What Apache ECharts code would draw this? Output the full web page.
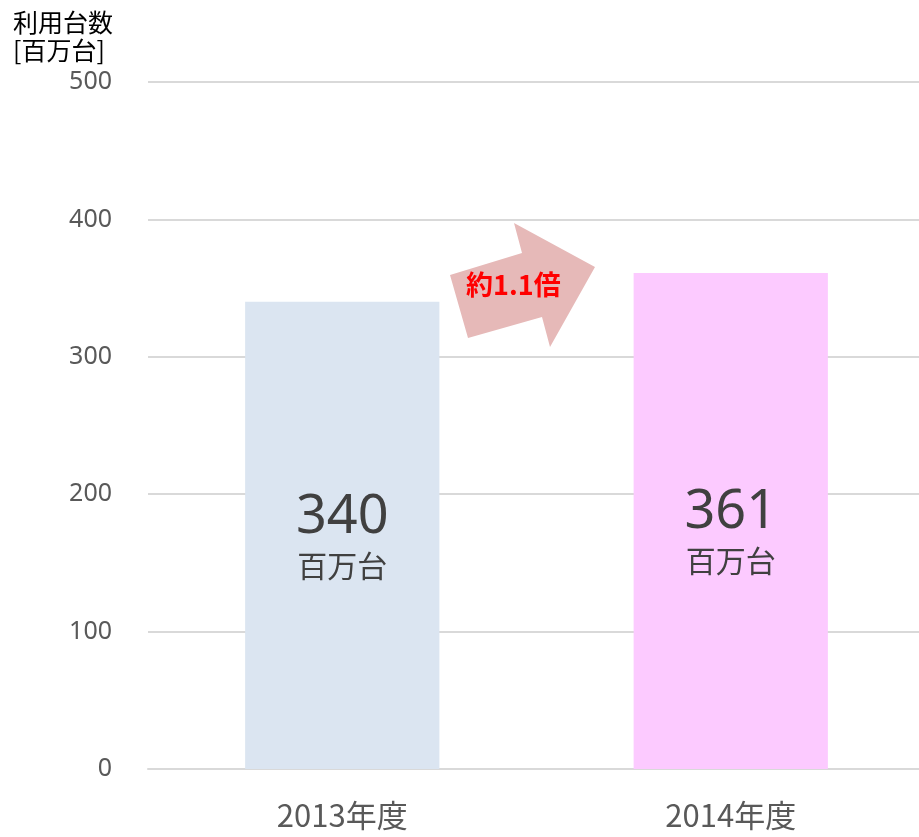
<!DOCTYPE html>
<html>
<head>
<meta charset="utf-8">
<script src="https://cdn.jsdelivr.net/npm/echarts@6/dist/echarts.min.js"></script>
<style>
  html, body { margin: 0; padding: 0; background: #fff; }
  #main { width: 919px; height: 837px; }
</style>
</head>
<body>
<div id="main"></div>
<script>
const categories = ["2013年度", "2014年度"];
const values = [340, 361];
const barColors = ["#dbe5f1", "#fccaff"];
const labelShift = [2, 12];
const unitLabel = "百万台";
const growthText = "約1.1倍";

const font = '"Noto Sans CJK JP", "Noto Sans", sans-serif';
const numFont = '"Noto Sans", "Noto Sans CJK JP", sans-serif';

const chart = echarts.init(document.getElementById("main"));
chart.setOption({
  animation: false,
  textStyle: { fontFamily: font },
  title: {
    text: "利用台数\n[百万台]",
    left: 8,
    top: 3,
    textStyle: { fontSize: 25, fontWeight: "normal", color: "#000", lineHeight: 28, fontFamily: font }
  },
  grid: { left: 148, width: 777, top: 82, bottom: 68, outerBoundsMode: "none" },
  xAxis: {
    type: "category",
    data: categories,
    axisLine: { lineStyle: { color: "#d9d9d9", width: 2 } },
    axisTick: { show: false },
    axisLabel: { fontSize: 31, color: "#595959", margin: 31 }
  },
  yAxis: {
    type: "value",
    min: 0,
    max: 500,
    interval: 100,
    axisLine: { show: false },
    axisTick: { show: false },
    splitLine: { lineStyle: { color: "#d9d9d9", width: 2 } },
    axisLabel: { fontSize: 25, color: "#595959", margin: 36, fontFamily: numFont }
  },
  series: [{
    type: "bar",
    barWidth: "50%",
    data: values.map((v, i) => ({
      value: v,
      itemStyle: { color: barColors[i] },
      label: { offset: [0, labelShift[i]] }
    })),
    label: {
      show: true,
      position: "inside",
      formatter: p => "{v|" + p.value + "}\n{u|" + unitLabel + "}",
      rich: {
        v: { fontSize: 54, color: "#404040", lineHeight: 56, fontFamily: numFont },
        u: { fontSize: 30, color: "#404040", lineHeight: 40, fontFamily: font }
      }
    }
  }],
  graphic: [
    {
      type: "polygon",
      shape: {
        points: [[450, 275], [522, 253], [514, 223], [595, 267], [550, 347], [542, 317], [468, 338]]
      },
      style: { fill: "#e6b9b8" }
    },
    {
      type: "text",
      left: 466,
      top: 271,
      style: { text: growthText, fill: "#ff0000", font: "bold 27px " + font }
    }
  ]
});
</script>
</body>
</html>
